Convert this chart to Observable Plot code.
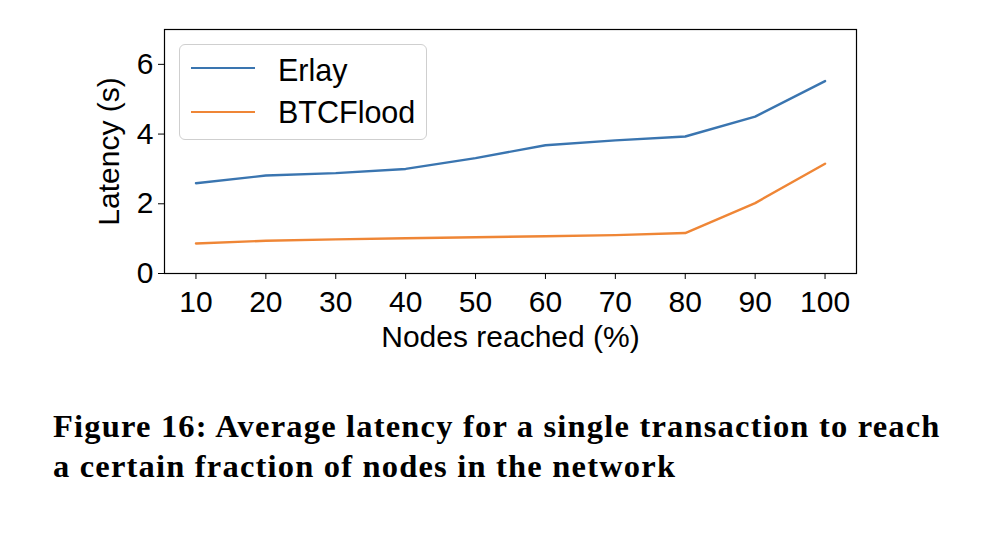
<!DOCTYPE html>
<html>
<head>
<meta charset="utf-8">
<script src="https://cdn.jsdelivr.net/npm/d3@7"></script>
<script src="https://cdn.jsdelivr.net/npm/@observablehq/plot@0.6"></script>
<style>
  html, body { margin: 0; padding: 0; background: white; }
  #wrap { position: relative; width: 988px; height: 534px; overflow: hidden; }
  #chart { position: absolute; left: 0; top: 0; }
  #legend { position: absolute; left: 179px; top: 44px; width: 248px; height: 96px;
            border: 1px solid #cfcfcf; border-radius: 6px; background: rgba(255,255,255,0.85);
            box-sizing: border-box; }
  .sw { position: absolute; left: 11px; width: 64px; height: 0; border-top: 2.4px solid; }
  .lt { position: absolute; left: 98px; font-family: 'Liberation Sans', Arial, sans-serif;
        font-size: 30.5px; line-height: 30px; white-space: nowrap; color: black; }
  #caption { position: absolute; left: 53px; top: 406px; font-family: 'Liberation Serif', 'Times New Roman', serif;
             font-weight: bold; font-size: 32.5px; line-height: 40px; color: black; white-space: nowrap; }
</style>
</head>
<body>
<div id="wrap">
  <div id="chart"></div>
  <div id="legend"></div>
  <div id="caption"></div>
</div>
<script>
const nodesReached = [10, 20, 30, 40, 50, 60, 70, 80, 90, 100];
const erlayLatency = [2.59, 2.81, 2.88, 3.0, 3.31, 3.68, 3.82, 3.93, 4.5, 5.52];
const btcFloodLatency = [0.86, 0.94, 0.98, 1.01, 1.04, 1.07, 1.10, 1.16, 2.02, 3.15];
const seriesNames = ["Erlay", "BTCFlood"];
const seriesColors = ["#3a75b0", "#ef8636"];
const xTicks = [10, 20, 30, 40, 50, 60, 70, 80, 90, 100];
const yTicks = [0, 2, 4, 6];
const xLabel = "Nodes reached (%)";
const yLabel = "Latency (s)";
const captionLines = ["Figure 16: Average latency for a single transaction to reach",
                      "a certain fraction of nodes in the network"];

const rows = [];
nodesReached.forEach((n, i) => {
  rows.push({series: seriesNames[0], x: n, y: erlayLatency[i]});
  rows.push({series: seriesNames[1], x: n, y: btcFloodLatency[i]});
});

const chart = Plot.plot({
  width: 988,
  height: 380,
  marginLeft: 164,
  marginRight: 132,
  marginTop: 29,
  marginBottom: 107,
  style: {fontFamily: "'Liberation Sans', Arial, sans-serif", fontSize: "30px", color: "black", background: "white", overflow: "visible"},
  x: {domain: [5.5, 104.5]},
  y: {domain: [0, 7]},
  color: {domain: seriesNames, range: seriesColors},
  marks: [
    Plot.axisX({ticks: xTicks, tickFormat: d3.format("d"), tickSize: 6, tickPadding: 11, label: xLabel, labelAnchor: "center", labelArrow: "none", labelOffset: 73}),
    Plot.axisY({ticks: yTicks, tickFormat: d3.format("d"), tickSize: 6, tickPadding: 5, label: yLabel, labelAnchor: "center", labelArrow: "none", labelOffset: 67}),
    Plot.line(rows, {x: "x", y: "y", z: "series", stroke: "series", strokeWidth: 2.4}),
    Plot.frame({stroke: "black", strokeWidth: 1.2})
  ]
});
document.getElementById("chart").appendChild(chart);

const legend = document.getElementById("legend");
const swY = [23, 67];
const txTop = [10, 52];
seriesNames.forEach((name, i) => {
  const sw = document.createElement("div");
  sw.className = "sw";
  sw.style.top = (swY[i] - 1) + "px";
  sw.style.borderTopColor = seriesColors[i];
  legend.appendChild(sw);
  const t = document.createElement("div");
  t.className = "lt";
  t.style.top = txTop[i] + "px";
  t.textContent = name;
  legend.appendChild(t);
});

const cap = document.getElementById("caption");
const targetWidth = 890;
const ctx = document.createElement("canvas").getContext("2d");
const cs = getComputedStyle(cap);
ctx.font = `bold ${cs.fontSize} ${cs.fontFamily}`;
const w0 = ctx.measureText(captionLines[0]).width;
const ls = (targetWidth - w0) / captionLines[0].length;
cap.style.letterSpacing = ls + "px";
captionLines.forEach((l, i) => {
  const d = document.createElement("div");
  d.textContent = l;
  cap.appendChild(d);
});
</script>
</body>
</html>
